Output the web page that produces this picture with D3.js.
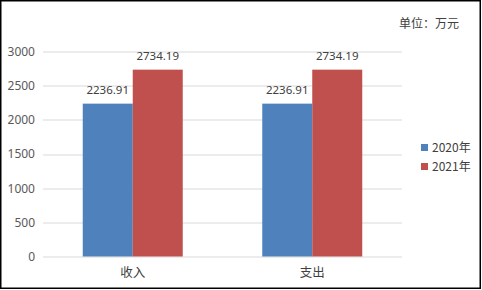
<!DOCTYPE html>
<html>
<head>
<meta charset="utf-8">
<script src="https://cdn.jsdelivr.net/npm/d3@7"></script>
<style>
  body { margin: 0; background: #fff; }
  text { font-family: "Noto Sans CJK SC", "Noto Sans", sans-serif; }
</style>
</head>
<body>
<div id="chart"></div>
<script>
const categories = ['收入', '支出'];
const seriesNames = ['2020年', '2021年'];
const values2020 = [2236.91, 2236.91];
const values2021 = [2734.19, 2734.19];
const yTicks = [0, 500, 1000, 1500, 2000, 2500, 3000];
const unitLabel = '单位：万元';

const colors = ['#4F81BD', '#C0504D'];
const W = 482, H = 290;
const margin = {top: 51.5, right: 80, bottom: 33.5, left: 43};
const width = 402 - margin.left;
const height = 256.5 - margin.top;

const svg = d3.select('#chart')
  .append('svg')
  .attr('width', W)
  .attr('height', H);

svg.append('rect')
  .attr('x', 0.75).attr('y', 0.75)
  .attr('width', 479.5).attr('height', 287.5)
  .attr('fill', '#fff')
  .attr('stroke', '#000')
  .attr('stroke-width', 1.5);

const g = svg.append('g')
  .attr('transform', 'translate(' + margin.left + ',' + margin.top + ')');

const x = d3.scaleBand()
  .domain(categories)
  .range([0, width])
  .paddingInner(0)
  .paddingOuter(0);

const x1 = d3.scaleBand()
  .domain(seriesNames)
  .range([x.bandwidth() / 2 - 50, x.bandwidth() / 2 + 50]);

const y = d3.scaleLinear()
  .domain([0, 3000])
  .range([height, 0]);

// gridlines
g.append('g')
  .selectAll('line')
  .data(yTicks)
  .join('line')
  .attr('x1', 0)
  .attr('x2', width)
  .attr('y1', d => Math.round(y(d)) + 0.5)
  .attr('y2', d => Math.round(y(d)) + 0.5)
  .attr('stroke', '#D9D9D9')
  .attr('stroke-width', 1);

// y axis labels
const yAxis = d3.axisLeft(y)
  .tickValues(yTicks)
  .tickFormat(d3.format('d'))
  .tickSize(0)
  .tickPadding(8);
g.append('g')
  .call(yAxis)
  .call(s => s.select('.domain').remove())
  .selectAll('text')
  .attr('fill', '#595959')
  .style('font-size', '12px')
  .style('font-family', '"Noto Sans", sans-serif');

const rows = categories.map((c, i) => ({
  cat: c,
  vals: [values2020[i], values2021[i]]
}));

const groups = g.selectAll('.grp')
  .data(rows)
  .join('g')
  .attr('class', 'grp')
  .attr('transform', d => 'translate(' + x(d.cat) + ',0)');

groups.selectAll('rect')
  .data(d => d.vals.map((v, j) => ({name: seriesNames[j], v, j})))
  .join('rect')
  .attr('x', d => x1(d.name))
  .attr('width', x1.bandwidth())
  .attr('y', d => y(d.v))
  .attr('height', d => height - y(d.v))
  .attr('fill', d => colors[d.j]);

groups.selectAll('.lbl')
  .data(d => d.vals.map((v, j) => ({name: seriesNames[j], v, j})))
  .join('text')
  .attr('class', 'lbl')
  .attr('x', d => x1(d.name) + x1.bandwidth() / 2)
  .attr('y', d => y(d.v) - 10)
  .attr('text-anchor', 'middle')
  .attr('fill', '#404040')
  .style('font-size', '11.5px')
  .style('font-family', '"Noto Sans", sans-serif')
  .text(d => d.v.toFixed(2));

// x axis labels
g.append('g')
  .selectAll('text')
  .data(categories)
  .join('text')
  .attr('x', d => x(d) + x.bandwidth() / 2)
  .attr('y', height + 20)
  .attr('text-anchor', 'middle')
  .attr('fill', '#404040')
  .style('font-size', '12.5px')
  .text(d => d);

// legend
const legend = svg.append('g')
  .selectAll('g')
  .data(seriesNames)
  .join('g')
  .attr('transform', (d, i) => 'translate(421,' + (144 + i * 19) + ')');

legend.append('rect')
  .attr('width', 7)
  .attr('height', 7)
  .attr('fill', (d, i) => colors[i]);

legend.append('text')
  .attr('x', 11)
  .attr('y', 8)
  .attr('fill', '#404040')
  .style('font-size', '12px')
  .text(d => d);

svg.append('text')
  .attr('x', 459)
  .attr('y', 28)
  .attr('text-anchor', 'end')
  .attr('fill', '#404040')
  .style('font-size', '12px')
  .text(unitLabel);
</script>
</body>
</html>
